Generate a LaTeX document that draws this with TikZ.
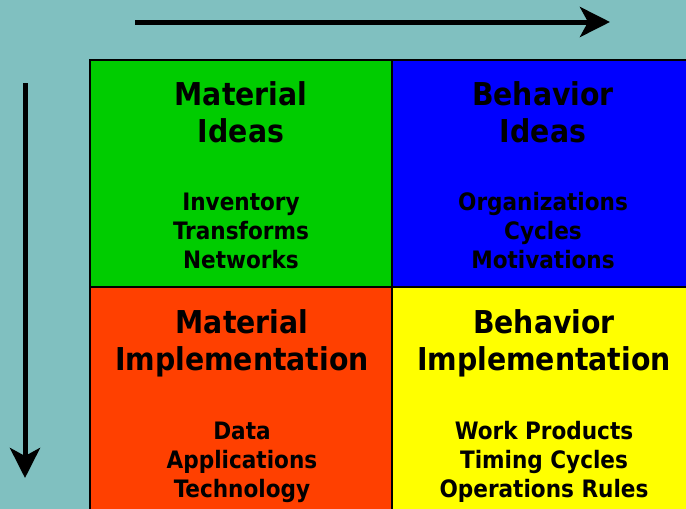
\documentclass[tikz,border=0pt]{standalone}
\usepackage{fontspec}
\setmainfont{DejaVu Sans Condensed}
\usetikzlibrary{arrows.meta,positioning}
\definecolor{bgteal}{RGB}{128,192,192}
\definecolor{matgreen}{RGB}{0,204,0}
\definecolor{behblue}{RGB}{0,0,255}
\definecolor{impred}{RGB}{255,64,0}
\definecolor{impyellow}{RGB}{255,255,0}
\tikzset{
    cell/.style={
           rectangle,
           draw=black, line width=1.2pt,
           minimum width=302pt,
           minimum height=227pt,
           inner sep=0pt,
           },
    title/.style={font=\bfseries\fontsize{31.5}{37}\selectfont, align=center, anchor=base, inner sep=0pt},
    items/.style={font=\bfseries\fontsize{24}{29}\selectfont, align=center, anchor=base, inner sep=0pt},
    axis/.style={-{Stealth[length=30pt,width=30pt,inset=8pt]}, line width=5pt},
}

\begin{document}
\begin{tikzpicture}[x=1pt, y=-1pt]
\useasboundingbox (0,0) rectangle (686,509);
\fill[bgteal] (0,0) rectangle (686,509);
\node[cell, fill=matgreen] (mi) at (241,173.5) {};
\node[cell, fill=behblue] (bi) at (543,173.5) {};
\node[cell, fill=impred] (mimp) at (241,400.5) {};
\node[cell, fill=impyellow] (bimp) at (543,400.5) {};
\node[title] (mititle) at (241,142) {Material\\Ideas};
\node[items] (milist) at (241,268) {Inventory\\Transforms\\Networks};
\node[title] (bititle) at (543,142) {Behavior\\Ideas};
\node[items] (bilist) at (543,268) {Organizations\\Cycles\\Motivations};
\node[title] (mimptitle) at (242,370) {Material\\Implementation};
\node[items] (mimplist) at (242,497) {Data\\Applications\\Technology};
\node[title] (bimptitle) at (544,370) {Behavior\\Implementation};
\node[items] (bimplist) at (544,497) {Work Products\\Timing Cycles\\Operations Rules};
\coordinate (h0) at (135,22);
\coordinate (h1) at (610,22);
\coordinate (v0) at (25,83);
\coordinate (v1) at (25,478);
\draw[axis] (h0) -- (h1);
\draw[axis] (v0) -- (v1);
\end{tikzpicture}
\end{document}
